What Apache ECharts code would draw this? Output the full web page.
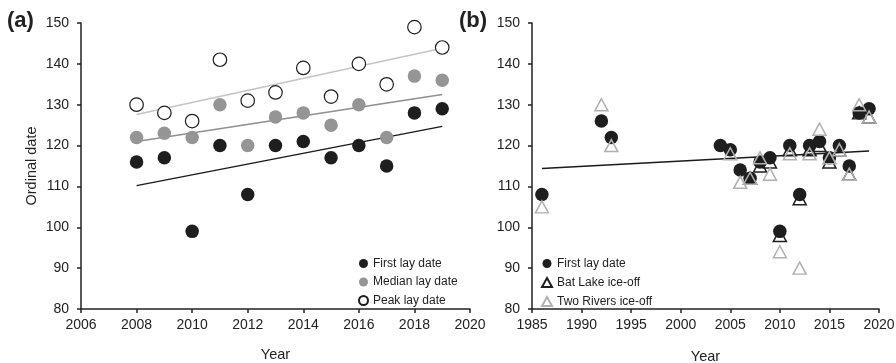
<!DOCTYPE html>
<html>
<head>
<meta charset="utf-8">
<style>
  html, body { margin: 0; padding: 0; background: #fff; }
  #chart { width: 896px; height: 363px; }
</style>
<script src="https://cdn.jsdelivr.net/npm/echarts@6/dist/echarts.min.js"></script>
</head>
<body>
<div id="chart"></div>
<script>
// panel (a): lay dates 2008-2019
var yearsA = [2008, 2009, 2010, 2011, 2012, 2013, 2014, 2015, 2016, 2017, 2018, 2019];
var firstLayA = [116, 117, 99, 120, 108, 120, 121, 117, 120, 115, 128, 129];
var medianLayA = [122, 123, 122, 130, 120, 127, 128, 125, 130, 122, 137, 136];
var peakLayA = [130, 128, 126, 141, 131, 133, 139, 132, 140, 135, 149, 144];
var trendYearsA = [2008, 2019];
var firstTrendA = [110.2, 124.7];
var medianTrendA = [121.0, 132.5];
var peakTrendA = [127.6, 143.8];

// panel (b): first lay date vs ice-off
var yearsB = [1986, 1992, 1993, 2004, 2005, 2006, 2007, 2008, 2009, 2010, 2011, 2012, 2013, 2014, 2015, 2016, 2017, 2018, 2019];
var firstLayB = [108, 126, 122, 120, 119, 114, 112, 116, 117, 99, 120, 108, 120, 121, 117, 120, 115, 128, 129];
var batYears = [2007, 2008, 2009, 2010, 2011, 2012, 2013, 2014, 2015, 2016, 2017, 2018, 2019];
var batLake = [112, 115, 116, 98, 119, 107, 119, 120, 116, 119, 113, 128, 127];
var twoYears = [1986, 1992, 1993, 2005, 2006, 2007, 2008, 2009, 2010, 2011, 2012, 2013, 2014, 2015, 2016, 2017, 2018, 2019];
var twoRivers = [105, 130, 120, 118, 111, 112, 117, 113, 94, 118, 90, 118, 124, 117, 119, 113, 130, 127];
var trendYearsB = [1986, 2019];
var firstTrendB = [114.4, 118.7];

var yTicks = { min: 80, max: 150, interval: 10 };

function pairs(xs, ys) {
    return xs.map(function (x, i) { return [x, ys[i]]; });
}

var FONT = '"Liberation Sans", Arial, sans-serif';
var INK = '#222';

function xAxisOf(idx, min, max, interval, gap) {
    return {
        type: 'value', gridIndex: idx, min: min, max: max, interval: interval,
        name: 'Year', nameLocation: 'middle', nameGap: gap,
        nameTextStyle: { fontFamily: FONT, fontSize: 14.5, color: INK },
        axisLine: { lineStyle: { color: INK, width: 1.5 } },
        axisTick: { length: 4, lineStyle: { color: INK, width: 1.5 } },
        axisLabel: {
            fontFamily: FONT, fontSize: 14, color: INK, margin: 9,
            formatter: function (v) { return String(v); }
        },
        splitLine: { show: false }
    };
}

function yAxisOf(idx, name) {
    return {
        type: 'value', gridIndex: idx, min: yTicks.min, max: yTicks.max, interval: yTicks.interval,
        name: name, nameLocation: 'middle', nameGap: 42,
        nameTextStyle: { fontFamily: FONT, fontSize: 14.5, color: INK },
        axisLine: { show: true, lineStyle: { color: INK, width: 1.5 } },
        axisTick: { show: true, length: 4, lineStyle: { color: INK, width: 1.5 } },
        axisLabel: { fontFamily: FONT, fontSize: 14, color: INK, margin: 12 },
        splitLine: { show: false }
    };
}

function trend(name, idx, xs, ys, color) {
    return {
        name: name, type: 'line', xAxisIndex: idx, yAxisIndex: idx,
        data: pairs(xs, ys), symbol: 'none', silent: true,
        lineStyle: { color: color, width: 1.5 }, z: 1
    };
}

var chart = echarts.init(document.getElementById('chart'));

var option = {
    animation: false,
    textStyle: { fontFamily: FONT },
    grid: [
        { left: 81, right: 426, top: 23, bottom: 54, outerBoundsMode: 'none', containLabel: false },
        { left: 532, right: 17, top: 23, bottom: 54, outerBoundsMode: 'none', containLabel: false }
    ],
    xAxis: [xAxisOf(0, 2006, 2020, 2, 38), xAxisOf(1, 1985, 2020, 5, 40)],
    yAxis: [yAxisOf(0, 'Ordinal date'), yAxisOf(1, '')],
    legend: [
        {
            data: ['First lay date', 'Median lay date', 'Peak lay date'],
            left: 353, top: 252, orient: 'vertical',
            itemWidth: 9, itemHeight: 9, itemGap: 5.5,
            textStyle: { fontFamily: FONT, fontSize: 12, color: INK, lineHeight: 13 },
            selectedMode: false
        },
        {
            data: ['First lay date ', 'Bat Lake ice-off', 'Two Rivers ice-off'],
            left: 536, top: 252, orient: 'vertical',
            itemWidth: 10, itemHeight: 9, itemGap: 6,
            textStyle: { fontFamily: FONT, fontSize: 12, color: INK, lineHeight: 13 },
            selectedMode: false
        }
    ],
    graphic: [
        { type: 'text', left: 7, top: 10, style: { text: '(a)', font: 'bold 22px ' + FONT, fill: INK } },
        { type: 'text', left: 459, top: 10, style: { text: '(b)', font: 'bold 22px ' + FONT, fill: INK } }
    ],
    series: [
        trend('trend peak', 0, trendYearsA, peakTrendA, '#c4c4c4'),
        trend('trend median', 0, trendYearsA, medianTrendA, '#8f8f8f'),
        trend('trend first', 0, trendYearsA, firstTrendA, '#1a1a1a'),
        {
            name: 'First lay date', type: 'scatter', xAxisIndex: 0, yAxisIndex: 0,
            data: pairs(yearsA, firstLayA), symbol: 'circle', symbolSize: 13.5,
            itemStyle: { color: '#1e1e1e', opacity: 1 }, z: 3
        },
        {
            name: 'Median lay date', type: 'scatter', xAxisIndex: 0, yAxisIndex: 0,
            data: pairs(yearsA, medianLayA), symbol: 'circle', symbolSize: 13.5,
            itemStyle: { color: '#959595', opacity: 1 }, z: 3
        },
        {
            name: 'Peak lay date', type: 'scatter', xAxisIndex: 0, yAxisIndex: 0,
            data: pairs(yearsA, peakLayA), symbol: 'circle', symbolSize: 13.5,
            itemStyle: { color: '#fff', borderColor: '#1e1e1e', borderWidth: 1.2, opacity: 1 }, z: 3
        },
        trend('trend b', 1, trendYearsB, firstTrendB, '#1a1a1a'),
        {
            name: 'First lay date ', type: 'scatter', xAxisIndex: 1, yAxisIndex: 1,
            data: pairs(yearsB, firstLayB), symbol: 'circle', symbolSize: 13.5,
            itemStyle: { color: '#1e1e1e', opacity: 1 }, z: 3
        },
        {
            name: 'Bat Lake ice-off', type: 'scatter', xAxisIndex: 1, yAxisIndex: 1,
            data: pairs(batYears, batLake), symbol: 'triangle', symbolSize: [13, 12],
            itemStyle: { color: 'rgba(0,0,0,0)', borderColor: '#1e1e1e', borderWidth: 1.5, opacity: 1 }, z: 4
        },
        {
            name: 'Two Rivers ice-off', type: 'scatter', xAxisIndex: 1, yAxisIndex: 1,
            data: pairs(twoYears, twoRivers), symbol: 'triangle', symbolSize: [13, 12],
            itemStyle: { color: 'rgba(0,0,0,0)', borderColor: '#b0b0b0', borderWidth: 1.5, opacity: 1 }, z: 5
        }
    ]
};

chart.setOption(option);
</script>
</body>
</html>
